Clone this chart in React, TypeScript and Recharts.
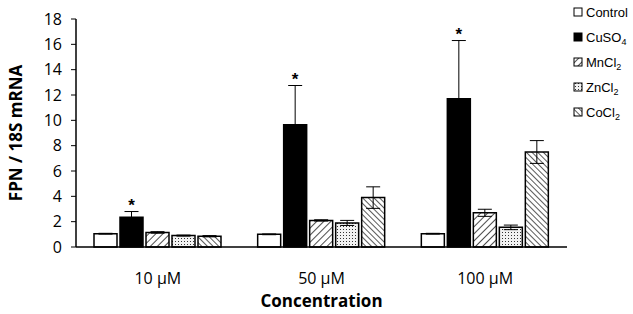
import React from "react";
import {
  BarChart,
  Bar,
  XAxis,
  YAxis,
  ErrorBar,
  LabelList,
} from "recharts";

const categories = ["10 µM", "50 µM", "100 µM"];
const control = [1.05, 1.0, 1.05];
const controlErr = [0.03, 0.03, 0.03];
const cuso4 = [2.35, 9.65, 11.7];
const cuso4Err = [0.45, 3.1, 4.6];
const mncl2 = [1.15, 2.1, 2.7];
const mncl2Err = [0.06, 0.05, 0.28];
const zncl2 = [0.9, 1.9, 1.55];
const zncl2Err = [0.04, 0.2, 0.18];
const cocl2 = [0.85, 3.9, 7.5];
const cocl2Err = [0.05, 0.85, 0.9];
const yTicks = [0, 2, 4, 6, 8, 10, 12, 14, 16, 18];

const data = categories.map((c, i) => ({
  conc: c,
  control: control[i],
  controlErr: controlErr[i],
  cuso4: cuso4[i],
  cuso4Err: cuso4Err[i],
  mncl2: mncl2[i],
  mncl2Err: mncl2Err[i],
  zncl2: zncl2[i],
  zncl2Err: zncl2Err[i],
  cocl2: cocl2[i],
  cocl2Err: cocl2Err[i],
}));

// legend entries: name parts (base + subscript)
const series = [
  { key: "control", fill: "#ffffff", name: "Control", sub: "" },
  { key: "cuso4", fill: "#000000", name: "CuSO", sub: "4" },
  { key: "mncl2", fill: "url(#hatchMn)", name: "MnCl", sub: "2" },
  { key: "zncl2", fill: "url(#dotsZn)", name: "ZnCl", sub: "2" },
  { key: "cocl2", fill: "url(#hatchCo)", name: "CoCl", sub: "2" },
];

const Star = (props: any) => {
  const { x, y, width, height, value, index } = props;
  const pxPerUnit = height / value;
  const top = y - cuso4Err[index] * pxPerUnit;
  return (
    <text
      x={x + width / 2}
      y={top - 1}
      textAnchor="middle"
      fontSize={17}
      fontWeight="bold"
      fontFamily="Liberation Sans, Arial"
      fill="#000"
    >
      *
    </text>
  );
};

const LegendBox = () => (
  <svg width={70} height={125} style={{ position: "absolute", left: 568, top: 4 }}>
    {series.map((s, i) => (
      <g key={s.key} transform={`translate(0, ${i * 25})`}>
        <rect x={6} y={4} width={8} height={8} fill={s.fill} stroke="#000" strokeWidth={1} />
        <text x={18} y={13} fontSize={13} fontFamily="Liberation Sans, Arial" fill="#000">
          {s.name}
          {s.sub && (
            <tspan fontSize={9} dy={3}>
              {s.sub}
            </tspan>
          )}
        </text>
      </g>
    ))}
  </svg>
);

const App = () => {
  return (
    <div style={{ position: "absolute", left: 0, top: 0, width: 633, height: 314, background: "#fff" }}>
      <BarChart
        width={633}
        height={314}
        data={data}
        margin={{ top: 19, right: 66, bottom: 0, left: 0 }}
        barSize={23}
        barGap={3}
      >
        <defs>
          <pattern id="hatchMn" width="5" height="5" patternUnits="userSpaceOnUse" patternTransform="rotate(45)">
            <rect width="5" height="5" fill="#fff" />
            <line x1="0" y1="0" x2="0" y2="5" stroke="#000" strokeWidth="1.4" />
          </pattern>
          <pattern id="hatchCo" width="4" height="4" patternUnits="userSpaceOnUse" patternTransform="rotate(-45)">
            <rect width="4" height="4" fill="#fff" />
            <line x1="0" y1="0" x2="0" y2="4" stroke="#000" strokeWidth="1.3" />
          </pattern>
          <pattern id="dotsZn" width="3" height="3" patternUnits="userSpaceOnUse">
            <rect width="3" height="3" fill="#f2f2f2" />
            <rect x="1" y="1" width="1" height="1" fill="#333" />
          </pattern>
        </defs>
        <XAxis
          dataKey="conc"
          tickLine={false}
          axisLine={{ stroke: "#000", strokeWidth: 1.5 }}
          tick={{ fontSize: 16, fill: "#000", fontFamily: "Open Sans" }}
          tickMargin={20}
          height={67}
          label={{
            value: "Concentration",
            position: "insideBottom",
            offset: 7,
            style: { fontSize: 17, fontWeight: "bold", fill: "#000", fontFamily: "Open Sans" },
          }}
        />
        <YAxis
          domain={[0, 18]}
          ticks={yTicks}
          width={76}
          tickSize={5}
          tickMargin={9}
          axisLine={{ stroke: "#000", strokeWidth: 1.5 }}
          tickLine={{ stroke: "#000" }}
          tick={{ fontSize: 16, fill: "#000", fontFamily: "Open Sans" }}
          label={{
            value: "FPN / 18S mRNA",
            angle: -90,
            position: "insideLeft",
            offset: 16,
            style: { fontSize: 17, fontWeight: "bold", fill: "#000", fontFamily: "Open Sans", textAnchor: "middle" },
          }}
        />
        <Bar dataKey="control" fill="#fff" stroke="#000" strokeWidth={1.5} isAnimationActive={false}>
          <ErrorBar dataKey="controlErr" width={7} stroke="#000" strokeWidth={1} />
        </Bar>
        <Bar dataKey="cuso4" fill="#000" stroke="#000" strokeWidth={1.5} isAnimationActive={false}>
          <ErrorBar dataKey="cuso4Err" width={7} stroke="#000" strokeWidth={1} />
          <LabelList dataKey="cuso4" content={<Star />} />
        </Bar>
        <Bar dataKey="mncl2" fill="url(#hatchMn)" stroke="#000" strokeWidth={1.5} isAnimationActive={false}>
          <ErrorBar dataKey="mncl2Err" width={7} stroke="#000" strokeWidth={1} />
        </Bar>
        <Bar dataKey="zncl2" fill="url(#dotsZn)" stroke="#000" strokeWidth={1.5} isAnimationActive={false}>
          <ErrorBar dataKey="zncl2Err" width={7} stroke="#000" strokeWidth={1} />
        </Bar>
        <Bar dataKey="cocl2" fill="url(#hatchCo)" stroke="#000" strokeWidth={1.5} isAnimationActive={false}>
          <ErrorBar dataKey="cocl2Err" width={7} stroke="#000" strokeWidth={1} />
        </Bar>
      </BarChart>
      <LegendBox />
    </div>
  );
};

export default App;
